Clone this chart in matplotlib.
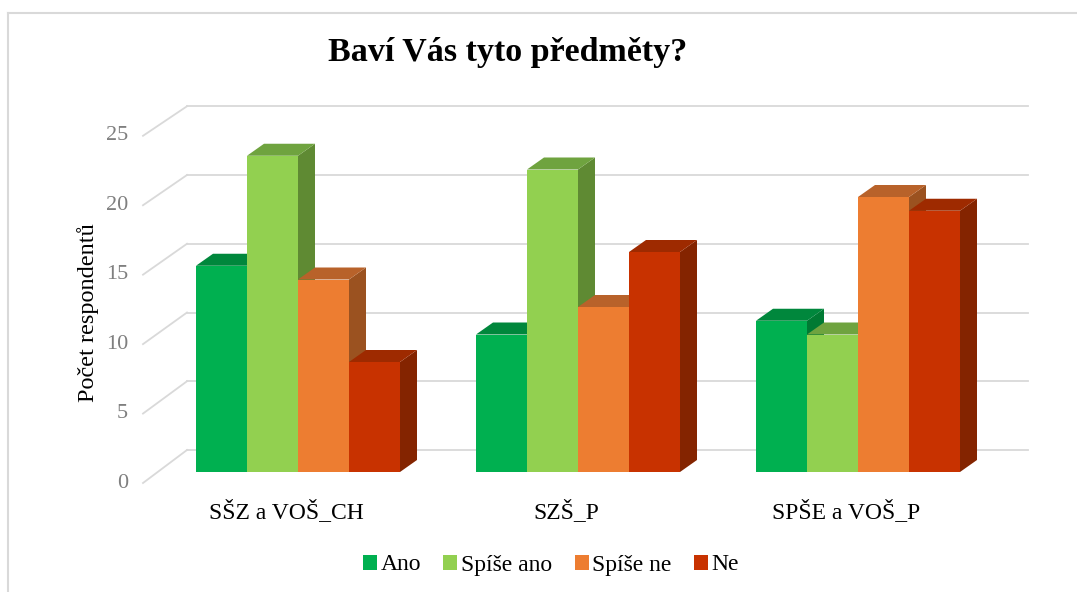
import matplotlib
matplotlib.use("Agg")
import matplotlib.pyplot as plt
from matplotlib.patches import Polygon, Rectangle
from matplotlib.lines import Line2D

# data
categories = ["SŠZ a VOŠ_CH", "SZŠ_P", "SPŠE a VOŠ_P"]
series = ["Ano", "Spíše ano", "Spíše ne", "Ne"]
ano = [15, 10, 11]
spise_ano = [23, 22, 10]
spise_ne = [14, 12, 20]
ne = [8, 16, 19]
yticks = [0, 5, 10, 15, 20, 25]

values = [ano, spise_ano, spise_ne, ne]
front = ["#00B050", "#92D050", "#ED7D31", "#C83200"]
top = ["#00873C", "#6FA33F", "#B8622A", "#9E2A00"]
side = ["#007A33", "#5F8A33", "#9B5220", "#842400"]

plt.rcParams['font.family'] = ['Liberation Serif', 'DejaVu Serif']

W, H = 1077, 592
fig = plt.figure(figsize=(W / 100, H / 100), dpi=100)
ax = fig.add_axes([0, 0, 1, 1])
ax.axis("off")

# 1 x unit = 280 px (group spacing), 1 y unit = 13.75 px
px = 1 / 280.0
py = 1 / 13.75
x0, y0 = 298, 472
ax.set_xlim((0 - x0) * px, (W - x0) * px)
ax.set_ylim((y0 - H) * py, y0 * py)

bw = 51 * px          # bar width
ddx, ddy = 17 * px, 12 * py   # bar depth
# back wall / floor
bx0, bx1 = (187 - x0) * px, (1028 - x0) * px
back_off = 22 * py
fx = (143 - x0) * px
front_off = -11 * py

for v in yticks:
    ax.plot([bx0, bx1], [v + back_off, v + back_off], color="#d9d9d9", lw=1.3, zorder=1)
    ax.plot([fx, bx0], [v * 1.01 + front_off, v + back_off], color="#d9d9d9", lw=1.3, zorder=1)
    ax.text(fx - 15 * px, v * 1.01 + front_off, str(v), ha="right", va="center",
            fontsize=16, color="#7f7f7f")

for i in range(len(categories)):
    start = i - 2 * bw
    for s in range(len(series)):
        v = values[s][i]
        xl = start + s * bw
        xr = xl + bw
        ax.add_patch(Polygon([[xr, 0], [xr + ddx, ddy], [xr + ddx, v + ddy], [xr, v]],
                             closed=True, facecolor=side[s], edgecolor="none", zorder=2 + s))
        ax.add_patch(Polygon([[xl, v], [xl + ddx, v + ddy], [xr + ddx, v + ddy], [xr, v]],
                             closed=True, facecolor=top[s], edgecolor="none", zorder=2 + s))
        ax.add_patch(Rectangle((xl, 0), bw, v, facecolor=front[s], edgecolor="none",
                               zorder=2 + s))
    ax.text(i - 12 * px, -40 * py, categories[i], ha="center", va="center", fontsize=17)

ax.text((88 - x0) * px, (y0 - 313) * py, "Počet respondentů", rotation=90,
        ha="center", va="center", fontsize=17.5)
fig.text(508 / W, 1 - 53 / H, "Baví Vás tyto předměty?", ha="center", va="center",
         fontsize=24.5, fontweight="bold")

# chart border
fig.add_artist(Line2D([8 / W, 1], [1 - 13 / H, 1 - 13 / H], transform=fig.transFigure,
                      color="#d9d9d9", lw=1.5))
fig.add_artist(Line2D([8 / W, 8 / W], [0, 1 - 13 / H], transform=fig.transFigure,
                      color="#d9d9d9", lw=1.5))

handles = [Rectangle((0, 0), 1, 1, facecolor=c, edgecolor="none") for c in front]
fig.legend(handles, series, loc="center", bbox_to_anchor=(551 / W, 1 - 565 / H), ncol=4,
           frameon=False, fontsize=17, handlelength=0.6, handleheight=0.6,
           handletextpad=0.15, columnspacing=0.95)

fig.savefig("out.png", dpi=100)
